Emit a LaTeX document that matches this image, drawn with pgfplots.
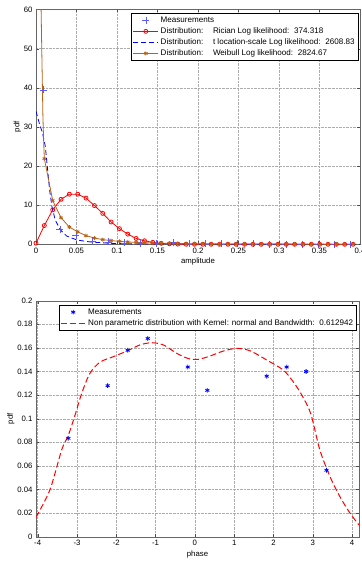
\documentclass[border=0pt]{standalone}
\usepackage{pgfplots}
\pgfplotsset{compat=1.18}
\usepackage{fontspec}
\setmainfont{Liberation Sans}
\definecolor{wbrown}{RGB}{184,98,20}
\definecolor{mblue}{RGB}{90,90,255}
\begin{document}
\begin{tikzpicture}
\useasboundingbox (0,0) rectangle (362bp,-563bp);
\pgfplotsset{
  every axis/.append style={
    scale only axis,
    font=\fontsize{7.8}{9}\selectfont,
    tick label style={font=\fontsize{7.8}{9}\selectfont},
    /pgf/number format/assume math mode=true,
    grid=major,
    grid style={densely dotted, gray!65},
    axis line style={gray!80!black},
    tick style={gray!60!black},
    major tick length=3pt,
    legend cell align=left,
    legend style={font=\fontsize{8.1}{9}\selectfont, draw=black, fill=white, inner sep=1.5pt, row sep=-0.3pt},
    legend image code/.code={\draw[#1] (0bp,0bp) -- (25bp,0bp); \draw[#1,solid] plot coordinates {(12.5bp,0bp)};},
  },
  markonly/.style={legend image code/.code={\draw[#1] plot coordinates {(12.5bp,0bp)};}},
}
\begin{axis}[
  at={(36bp,-244.3bp)}, anchor=south west,
  width=324bp, height=234.8bp,
  xmin=0, xmax=0.4, ymin=0, ymax=60,
  xtick={0,0.05,...,0.4},
  xticklabels={0,0.05,0.1,0.15,0.2,0.25,0.3,0.35,0.4},
  ytick={0,10,...,60},
  xlabel={amplitude}, ylabel={pdf},
  xlabel style={yshift=2pt},
  ylabel style={yshift=-4pt},
  legend style={at={(0.995,0.984)}, anchor=north east},
]
\addplot[only marks, mark=+, mark size=3.5bp, color=mblue, thin, markonly] coordinates {
(0.0094,39.5)(0.0293,3.8)(0.0493,2.2)(0.0692,0.9)(0.0891,0.6)(0.1091,0.4)(0.1290,0.3)(0.1489,0.2)(0.1688,0.5)(0.1888,0.12)
(0.2087,0.1)(0.2286,0.1)(0.2486,0.08)(0.2685,0.08)(0.2884,0.06)(0.3084,0.06)(0.3283,0.05)(0.3482,0.05)(0.3681,0.04)(0.3881,0.04)};
\addlegendentry{Measurements}
\addplot[color=red, thick, mark=o, mark size=2bp, mark options={solid}] coordinates {
(0,0.3)(0.0103,4.8)(0.0206,8.8)(0.0309,11.5)(0.0412,12.8)(0.0515,12.8)(0.0618,11.8)(0.0721,9.9)(0.0824,7.9)(0.0927,5.7)
(0.1030,4.0)(0.1133,2.6)(0.1236,1.5)(0.1339,0.9)(0.1442,0.5)(0.1545,0.25)(0.1648,0.12)(0.1751,0.05)(0.1854,0.02)(0.1957,0.01)
(0.2060,0)(0.2163,0)(0.2266,0)(0.2369,0)(0.2472,0)(0.2575,0)(0.2678,0)(0.2781,0)(0.2884,0)(0.2987,0)
(0.3090,0)(0.3193,0)(0.3296,0)(0.3399,0)(0.3502,0)(0.3605,0)(0.3708,0)(0.3811,0)(0.3914,0)};
\addlegendentry{Distribution:\hspace{1.2em}Rician Log likelihood:\hspace{0.6em}374.318}
\addplot[color=blue, thick, dash pattern=on 5bp off 3bp] coordinates {
(0,34)(0.004,31)(0.008,28.5)(0.0115,25)(0.0135,20.8)(0.0168,13.9)(0.0197,9.6)(0.0238,6.2)(0.030,3.7)(0.038,2.1)
(0.0506,1.1)(0.067,0.6)(0.092,0.25)(0.12,0.1)(0.2,0.03)(0.4,0.01)};
\addlegendentry{Distribution:\hspace{1.2em}t location-scale Log likelihood:\hspace{0.6em}2608.83}
\addplot[color=wbrown, thick, mark=asterisk, mark size=2bp, mark options={solid, thick}] coordinates {
(0.0103,21.9)(0.0206,11.2)(0.0309,6.8)(0.0412,4.4)(0.0515,3.2)(0.0618,2.2)(0.0721,1.6)(0.0824,1.2)(0.0927,0.95)
(0.1030,0.75)(0.1133,0.6)(0.1236,0.48)(0.1339,0.4)(0.1442,0.33)(0.1545,0.27)(0.1648,0.23)(0.1751,0.2)(0.1854,0.17)(0.1957,0.15)
(0.2060,0.13)(0.2163,0.11)(0.2266,0.1)(0.2369,0.09)(0.2472,0.08)(0.2575,0.07)(0.2678,0.065)(0.2781,0.06)(0.2884,0.055)(0.2987,0.05)
(0.3090,0.045)(0.3193,0.04)(0.3296,0.037)(0.3399,0.034)(0.3502,0.031)(0.3605,0.028)(0.3708,0.026)(0.3811,0.024)(0.3914,0.022)};
\addlegendentry{Distribution:\hspace{1.2em}Weibull Log likelihood:\hspace{0.6em}2824.67}
\addplot[color=wbrown, thick, forget plot] coordinates {
(0.0058,70)(0.0063,60)(0.0075,45)(0.0085,33)(0.0095,26)(0.0103,21.9)};
\end{axis}
\begin{axis}[
  at={(36bp,-536.7bp)}, anchor=south west,
  width=323bp, height=236bp,
  xmin=-4.043, xmax=4.176, ymin=0, ymax=0.2,
  xtick={-4,...,4},
  ytick={0,0.02,...,0.2},
  yticklabels={0,0.02,0.04,0.06,0.08,0.1,0.12,0.14,0.16,0.18,0.2},
  xlabel={phase}, ylabel={pdf},
  xlabel style={yshift=2pt},
  ylabel style={yshift=-4pt},
  legend style={at={(0.993,0.982)}, anchor=north east},
]
\addplot[only marks, mark=asterisk, mark size=2.3bp, color=blue, thick, markonly] coordinates {
(-3.22,0.0834)(-2.22,0.128)(-1.71,0.158)(-1.20,0.168)(-0.18,0.1438)(0.316,0.124)(1.827,0.136)(2.335,0.1438)(2.83,0.140)(3.35,0.0563)};
\addlegendentry{Measurements}
\addplot[color=red, line width=1bp, dash pattern=on 6bp off 3bp, smooth] coordinates {
(-4.043,0.0165)(-3.69,0.0396)(-3.39,0.0735)(-3.22,0.086)(-3.05,0.103)(-2.88,0.1215)(-2.67,0.1385)(-2.41,0.148)(-2.08,0.1525)
(-1.71,0.1576)(-1.40,0.1625)(-1.10,0.1644)(-0.80,0.1625)(-0.46,0.1554)(-0.17,0.151)(0.086,0.1503)(0.384,0.1531)(0.72,0.1573)
(1.06,0.1596)(1.40,0.1576)(1.83,0.1497)(2.25,0.1412)(2.50,0.1314)(2.72,0.12)(2.95,0.104)(3.18,0.0735)(3.44,0.0508)
(3.69,0.0339)(3.95,0.0198)(4.176,0.0099)};
\addlegendentry{Non parametric distribution with Kernel: normal and Bandwidth:\hspace{0.6em}0.612942}
\end{axis}
\end{tikzpicture}
\end{document}
